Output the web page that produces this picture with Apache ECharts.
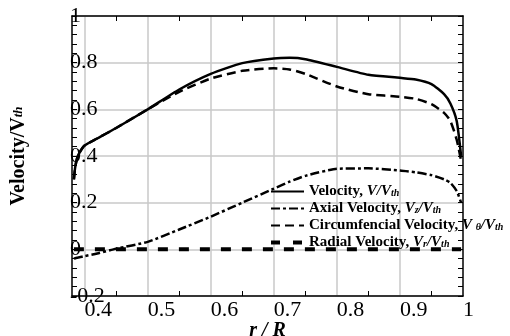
<!DOCTYPE html>
<html><head><meta charset="utf-8">
<script src="https://cdn.jsdelivr.net/npm/echarts@6/dist/echarts.min.js"></script>
<style>html,body{margin:0;padding:0;background:#fff}#c{width:510px;height:336px}</style>
</head><body><div id="c"></div>
<script>
// r/R positions (shared by all series)
const rR = [0.383, 0.385, 0.388, 0.392, 0.40, 0.42, 0.45, 0.50, 0.55, 0.60, 0.65, 0.70, 0.725, 0.75, 0.80, 0.85, 0.90, 0.925, 0.95, 0.97, 0.98, 0.99, 0.997];
const velocity = [0.30, 0.35, 0.39, 0.415, 0.445, 0.475, 0.52, 0.60, 0.685, 0.752, 0.798, 0.818, 0.821, 0.815, 0.782, 0.748, 0.735, 0.728, 0.708, 0.665, 0.625, 0.55, 0.40];
const circumVelocity = [0.30, 0.35, 0.39, 0.415, 0.445, 0.475, 0.52, 0.60, 0.675, 0.732, 0.765, 0.776, 0.771, 0.752, 0.698, 0.665, 0.654, 0.645, 0.622, 0.585, 0.55, 0.47, 0.38];
const axialVelocity = [-0.04, -0.038, -0.036, -0.034, -0.029, -0.018, 0.003, 0.032, 0.085, 0.14, 0.20, 0.26, 0.29, 0.315, 0.345, 0.347, 0.338, 0.33, 0.318, 0.30, 0.285, 0.25, 0.20];
const radialVelocity = [0, 0, 0, 0, 0, 0, 0, 0, 0, 0, 0, 0, 0, 0, 0, 0, 0, 0, 0, 0, 0, 0, 0];

const xLabelValues = [0.4, 0.5, 0.6, 0.7, 0.8, 0.9, 1];
const xTickValues = [0.45, 0.55, 0.65, 0.75, 0.85, 0.95];
const xGridValues = [0.4, 0.5, 0.6, 0.7, 0.8, 0.9];
const seriesNames = ['Velocity', 'Axial Velocity', 'Circumfencial Velocity', 'Radial Velocity'];
const legendTexts = {
  'Velocity': 'Velocity, {i|V/V}{s|th}',
  'Axial Velocity': 'Axial Velocity, {i|V}{s|z}{i|/V}{s|th}',
  'Circumfencial Velocity': 'Circumfencial Velocity, {i|V }{s|θ}{i|/V}{s|th}',
  'Radial Velocity': 'Radial Velocity, {i|V}{s|r}{i|/V}{s|th}'
};

const FF = '"Liberation Serif", "Times New Roman", serif';
const pairs = ys => rR.map((x, i) => [x, ys[i]]);
const fmt = v => String(Math.round(v * 100) / 100);

const chart = echarts.init(document.getElementById('c'), null, {renderer: 'canvas'});
const baseX = {
  type: 'value', min: 0.38, max: 1,
  axisLine: {show: true, onZero: false, lineStyle: {color: '#000', width: 1.5}},
  axisTick: {show: true, inside: true, length: 5, customValues: xTickValues, lineStyle: {color: '#000', width: 1}},
  splitLine: {show: false}
};
const baseY = {
  type: 'value', min: -0.2, max: 1, interval: 0.2,
  axisLine: {show: true, onZero: false, lineStyle: {color: '#000', width: 1.5}},
  axisTick: {show: true, inside: true, length: 5, lineStyle: {color: '#000', width: 1}},
  minorTick: {show: true, splitNumber: 5, length: 5, lineStyle: {color: '#000', width: 1}},
};
chart.setOption({
  animation: false,
  backgroundColor: '#fff',
  grid: {left: 72, right: 47, top: 16, bottom: 40, containLabel: false, outerBoundsMode: 'none'},
  xAxis: [
    Object.assign({}, baseX, {
      position: 'bottom',
      axisLabel: {show: true, customValues: xLabelValues, align: 'left', margin: 3, fontSize: 22, fontFamily: FF, color: '#000', formatter: fmt},
      name: 'r / R', nameLocation: 'middle', nameGap: 25, nameMoveOverlap: false,
      nameTextStyle: {fontSize: 20, fontWeight: 'bold', fontStyle: 'italic', fontFamily: FF, color: '#000'}
    }),
    Object.assign({}, baseX, {position: 'top', axisLabel: {show: false}}),
    {
      type: 'value', min: 0.38, max: 1, position: 'bottom',
      axisLine: {show: false}, axisLabel: {show: false},
      axisTick: {show: false, customValues: xGridValues},
      splitLine: {show: true, lineStyle: {color: '#c8c8c8', width: 1.5}}
    }
  ],
  yAxis: [
    Object.assign({}, baseY, {
      position: 'left',
      axisLabel: {show: true, inside: true, margin: -2, fontSize: 22, fontFamily: FF, color: '#000', formatter: fmt},
      splitLine: {show: true, lineStyle: {color: '#c8c8c8', width: 1.5}},
      name: '{b|Velocity/V}{s|th}', nameLocation: 'middle', nameGap: 43, nameRotate: 90, nameMoveOverlap: false,
      nameTextStyle: {
        color: '#000',
        rich: {
          b: {fontSize: 20, fontWeight: 'bold', fontFamily: FF, color: '#000'},
          s: {fontSize: 13, fontWeight: 'bold', fontStyle: 'italic', fontFamily: FF, color: '#000'}
        }
      }
    }),
    Object.assign({}, baseY, {position: 'right', axisLabel: {show: false}, splitLine: {show: false}})
  ],
  legend: {
    orient: 'vertical', left: 269, top: 184,
    itemWidth: 33, itemHeight: 14, itemGap: 2,
    padding: 0,
    data: [
      {name: seriesNames[0]},
      {name: seriesNames[1]},
      {name: seriesNames[2]},
      {name: seriesNames[3], lineStyle: {width: 4, type: [9, 13]}}
    ],
    formatter: n => legendTexts[n],
    itemStyle: {color: 'rgba(0,0,0,0)', borderWidth: 0, opacity: 0},
    textStyle: {
      fontSize: 15, fontWeight: 'bold', fontFamily: FF, color: '#000', lineHeight: 14,
      rich: {
        i: {fontSize: 15, fontWeight: 'bold', fontStyle: 'italic', fontFamily: FF, color: '#000', lineHeight: 14},
        s: {fontSize: 10, fontWeight: 'bold', fontStyle: 'italic', fontFamily: FF, color: '#000', lineHeight: 8, verticalAlign: 'bottom'}
      }
    }
  },
  series: [
    {name: seriesNames[0], type: 'line', xAxisIndex: 0, yAxisIndex: 0, data: pairs(velocity), symbol: 'none', smooth: 0.2,
      lineStyle: {color: '#000', width: 2.5, type: 'solid'}, itemStyle: {color: '#000'}, z: 5},
    {name: seriesNames[1], type: 'line', xAxisIndex: 0, yAxisIndex: 0, data: pairs(axialVelocity), symbol: 'none', smooth: 0.2,
      lineStyle: {color: '#000', width: 2.5, type: [9, 3, 3, 3]}, itemStyle: {color: '#000'}, z: 4},
    {name: seriesNames[2], type: 'line', xAxisIndex: 0, yAxisIndex: 0, data: pairs(circumVelocity), symbol: 'none', smooth: 0.2,
      lineStyle: {color: '#000', width: 2.5, type: [9, 5]}, itemStyle: {color: '#000'}, z: 4},
    {name: seriesNames[3], type: 'line', xAxisIndex: 0, yAxisIndex: 0, data: pairs(radialVelocity), symbol: 'none',
      lineStyle: {color: '#000', width: 4, type: [10, 11]}, itemStyle: {color: '#000'}, z: 3}
  ]
});
</script>
</body></html>
